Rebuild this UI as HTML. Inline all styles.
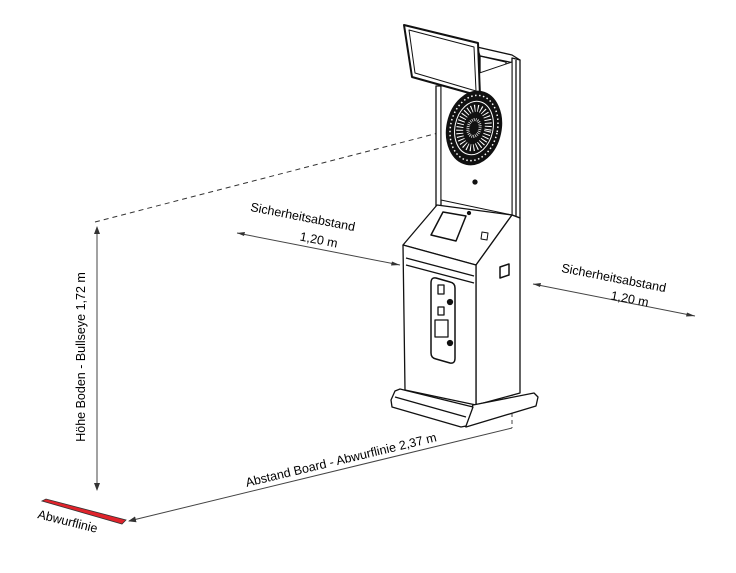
<!DOCTYPE html>
<html><head><meta charset="utf-8"><style>
html,body{margin:0;padding:0;background:#fff;}
svg{display:block;font-family:"Liberation Sans",Arial,sans-serif;}
</style></head><body>
<svg width="736" height="573" viewBox="0 0 736 573" xmlns="http://www.w3.org/2000/svg">
<defs>
<marker id="ar" markerWidth="8" markerHeight="6" refX="7" refY="3" orient="auto" markerUnits="userSpaceOnUse">
<path d="M0,0 L8,3 L0,6 z" fill="#333"/></marker>
</defs>
<line x1="95" y1="222" x2="446" y2="131" stroke="#333" stroke-width="1" stroke-dasharray="5,4"/>
<line x1="97" y1="490" x2="97" y2="227" stroke="#444" stroke-width="1" marker-end="url(#ar)"/>
<line x1="97" y1="300" x2="97" y2="490" stroke="#444" stroke-width="1" marker-end="url(#ar)"/>
<text transform="translate(85,357) rotate(-90)" text-anchor="middle" font-size="12.5">Höhe Boden - Bullseye 1,72 m</text>
<polygon points="42,501 46,499 126,520 122,524" fill="#e0232b" stroke="#333" stroke-width="0.8"/>
<text transform="translate(37,518) rotate(14)" font-size="12.5">Abwurflinie</text>
<line x1="512" y1="428" x2="129" y2="521" stroke="#444" stroke-width="1" marker-end="url(#ar)"/>
<line x1="512" y1="392" x2="512" y2="428" stroke="#444" stroke-width="1" stroke-dasharray="4,3"/>
<text transform="translate(342,464) rotate(-13.5)" text-anchor="middle" font-size="12.5">Abstand Board - Abwurflinie 2,37 m</text>
<line x1="237" y1="233" x2="400" y2="265" stroke="#444" stroke-width="1"/>
<path d="M237,233 l8,-1 l-1,4 z" fill="#333"/>
<path d="M400,265 l-8,-3.5 l-1,4 z" fill="#333"/>
<text transform="translate(302,221) rotate(11)" text-anchor="middle" font-size="12.5">Sicherheitsabstand</text>
<text transform="translate(318,244) rotate(11)" text-anchor="middle" font-size="12.5">1,20 m</text>
<line x1="533" y1="284" x2="695" y2="316" stroke="#444" stroke-width="1"/>
<path d="M533,284 l8,-1 l-1,4 z" fill="#333"/>
<path d="M695,316 l-8,-3.5 l-1,4 z" fill="#333"/>
<text transform="translate(613,282) rotate(11)" text-anchor="middle" font-size="12.5">Sicherheitsabstand</text>
<text transform="translate(629,303) rotate(11)" text-anchor="middle" font-size="12.5">1,20 m</text>

<g stroke="#111" stroke-width="1.3" fill="#fff" stroke-linejoin="round">
<polygon points="477,47 512,55 520,60 514,63 480,56"/>
<polygon points="480,56 506,62 506,82 480,77"/>
<polygon points="436,86 441,86 441,205 436,208"/>
<polygon points="512,58 520,60 520,218 512,215"/>
<line x1="516" y1="60" x2="516" y2="218"/>
<polygon points="441,86 512,62 512,215 441,200" stroke-width="1"/>
<polygon points="404,25 478,43 480,96 412,77" stroke-width="2"/>
<polygon points="409,30 474,47 476,91 415,73" stroke-width="1"/>
<g transform="rotate(12 474 128)">
<ellipse cx="474" cy="128" rx="27" ry="37" fill="#111"/>
<ellipse cx="474" cy="128" rx="23.5" ry="33" fill="none" stroke="#fff" stroke-width="1.5" stroke-dasharray="1.5,2.5"/>
<ellipse cx="474" cy="128" rx="19" ry="27" fill="none" stroke="#fff" stroke-width="1"/>
<ellipse cx="474" cy="128" rx="14" ry="20" fill="none" stroke="#fff" stroke-width="7" stroke-dasharray="1,2.2"/>
<ellipse cx="474" cy="128" rx="6" ry="8.5" fill="none" stroke="#fff" stroke-width="3" stroke-dasharray="0.7,1.2"/>
</g>
<circle cx="475" cy="182" r="2" fill="#111"/>
<polygon points="437,205 512,215 476,265 403,245"/>
<polygon points="443,212 466,216 456,241 431,235" stroke-width="1.5"/>
<circle cx="469" cy="213" r="1.5" fill="#111"/>
<polygon points="482,232 488,233 487,240 481,239" stroke-width="1"/>
<polygon points="512,215 520,218 520,393 476,405 476,265"/>
<polygon points="500,267 509,264 509,275 500,278" stroke-width="1.5"/>
<polygon points="403,245 476,265 476,405 405,390"/>
<line x1="406" y1="258" x2="474" y2="276"/>
<line x1="406" y1="265" x2="474" y2="283"/>
<path d="M436,278 L450,282 Q455,283 455,288 L455,358 Q455,364 450,363 L436,359 Q431,358 431,353 L431,283 Q431,277 436,278 z" stroke-width="1.5"/>
<rect x="438" y="285" width="6" height="9"/>
<rect x="438" y="307" width="6" height="8"/>
<rect x="435" y="320" width="13" height="17"/>
<circle cx="450" cy="302" r="2.5" fill="#111"/>
<circle cx="450" cy="343" r="2.5" fill="#111"/>
<polygon points="473,405 534,393 538,397 536,406 466,427 462,424"/>
<polygon points="395,391 400,389 473,407 466,426 461,427 392,407 391,400"/>
<line x1="395" y1="397" x2="466" y2="417"/>
</g>
</svg>
</body></html>
